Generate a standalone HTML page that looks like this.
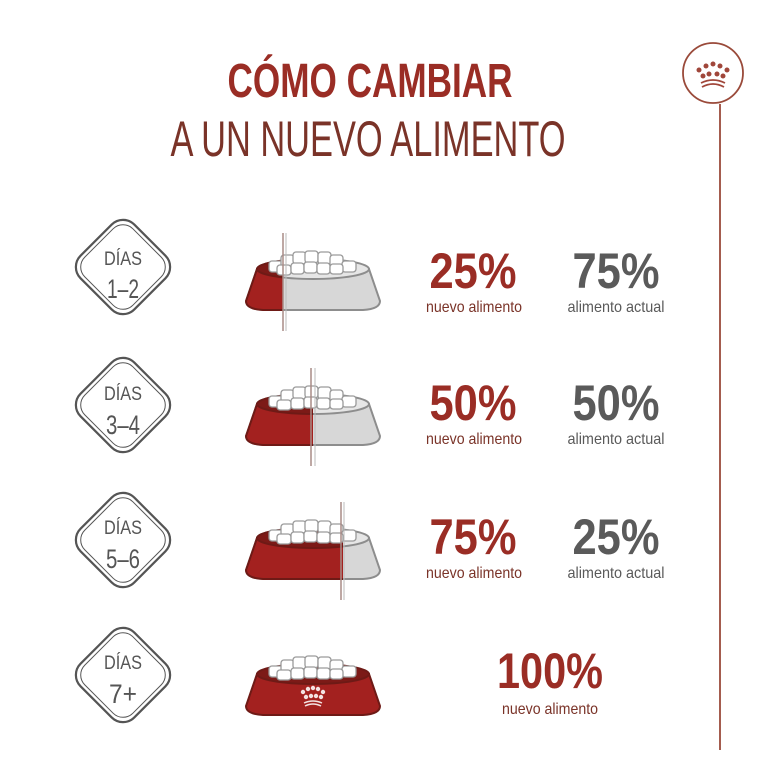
<!DOCTYPE html>
<html><head><meta charset="utf-8"><style>
html,body{margin:0;padding:0;background:#fff;}
svg{display:block;}
</style></head><body>
<svg width="780" height="780" viewBox="0 0 780 780" xmlns="http://www.w3.org/2000/svg" font-family="Liberation Sans, sans-serif">
<defs>
  <g id="food">
    <g fill="#fff" stroke="#9a9a9a" stroke-width="1.3">
      <rect x="-44" y="-22" width="14" height="11" rx="3"/>
      <rect x="-32" y="-28" width="13" height="12" rx="3"/>
      <rect x="-20" y="-31" width="13" height="12" rx="3"/>
      <rect x="-8" y="-32" width="13" height="12" rx="3"/>
      <rect x="5" y="-31" width="13" height="12" rx="3"/>
      <rect x="17" y="-28" width="13" height="12" rx="3"/>
      <rect x="29" y="-22" width="14" height="11" rx="3"/>
      <rect x="-36" y="-18" width="14" height="10" rx="3"/>
      <rect x="-22" y="-20" width="13" height="11" rx="3"/>
      <rect x="-9" y="-21" width="13" height="11" rx="3"/>
      <rect x="4" y="-20" width="13" height="11" rx="3"/>
      <rect x="17" y="-19" width="13" height="10" rx="3"/>
    </g>
  </g>
  <g id="bowlGray">
    <path d="M-56,-14 L-67,18 Q-67,26 -50,27 L50,27 Q67,26 67,18 L56,-14 Z" fill="#d7d7d7" stroke="#8d8d8d" stroke-width="2"/>
    <ellipse cx="0" cy="-14" rx="56" ry="10" fill="#e6e6e6" stroke="#8d8d8d" stroke-width="2"/>
  </g>
  <g id="bowlRed">
    <path d="M-56,-14 L-67,18 Q-67,26 -50,27 L50,27 Q67,26 67,18 L56,-14 Z" fill="#a3211f" stroke="#6e1a16" stroke-width="2"/>
    <ellipse cx="0" cy="-14" rx="56" ry="10" fill="#7c1a17" stroke="#6e1a16" stroke-width="2"/>
  </g>
  <clipPath id="c1"><rect x="-80" y="-60" width="50" height="120"/></clipPath>
  <clipPath id="c2"><rect x="-80" y="-60" width="80" height="120"/></clipPath>
  <clipPath id="c3"><rect x="-80" y="-60" width="110" height="120"/></clipPath>
  <g id="diamond" fill="none" stroke="#555" >
    <rect x="-38" y="-38" width="76" height="76" rx="16" transform="rotate(45)" stroke-width="2.2"/>
    <rect x="-34" y="-34" width="68" height="68" rx="14" transform="rotate(45)" stroke-width="1"/>
  </g>
</defs>

<!-- title -->
<text x="370" y="97" text-anchor="middle" font-size="48" font-weight="bold" fill="#9a2d25" textLength="285" lengthAdjust="spacingAndGlyphs">CÓMO CAMBIAR</text>
<text x="368" y="156" text-anchor="middle" font-size="50" fill="#7a3328" textLength="395" lengthAdjust="spacingAndGlyphs">A UN NUEVO ALIMENTO</text>

<!-- right emblem and line -->
<circle cx="713" cy="73" r="30" fill="none" stroke="#9a4a3a" stroke-width="1.8"/>
<g fill="#a0463a">
  <circle cx="699" cy="70" r="2.5"/><circle cx="706" cy="66" r="2.5"/><circle cx="713" cy="64" r="2.5"/><circle cx="720" cy="66" r="2.5"/><circle cx="727" cy="70" r="2.5"/>
  <circle cx="703" cy="76" r="2.5"/><circle cx="709" cy="74" r="2.5"/><circle cx="717" cy="74" r="2.5"/><circle cx="723" cy="76" r="2.5"/>
</g>
<path d="M701,83 Q713,77 725,83 M702,87 Q713,81 724,87" fill="none" stroke="#a0463a" stroke-width="1.8"/>
<line x1="720" y1="104" x2="720" y2="750" stroke="#9a4a3a" stroke-width="1.8"/>

<!-- row 1 -->
<use href="#diamond" x="123" y="267"/>
<text x="123" y="265" text-anchor="middle" font-size="19" fill="#555" textLength="38" lengthAdjust="spacingAndGlyphs">DÍAS</text>
<text x="123" y="298" text-anchor="middle" font-size="27" fill="#555" textLength="32" lengthAdjust="spacingAndGlyphs">1–2</text>
<g transform="translate(313,283)">
  <use href="#bowlGray"/>
  <g clip-path="url(#c1)"><use href="#bowlRed"/></g>
  <use href="#food"/>
  <line x1="-30" y1="-50" x2="-30" y2="48" stroke="#a98a86" stroke-width="1.5"/>
  <line x1="-27" y1="-50" x2="-27" y2="48" stroke="#bbb" stroke-width="1"/>
</g>
<text x="473" y="288" text-anchor="middle" font-size="50" font-weight="bold" fill="#9a2d25" textLength="87" lengthAdjust="spacingAndGlyphs">25%</text>
<text x="474" y="312" text-anchor="middle" font-size="16" fill="#7a3328" textLength="96" lengthAdjust="spacingAndGlyphs">nuevo alimento</text>
<text x="616" y="288" text-anchor="middle" font-size="50" font-weight="bold" fill="#5a5a5a" textLength="87" lengthAdjust="spacingAndGlyphs">75%</text>
<text x="616" y="312" text-anchor="middle" font-size="16" fill="#5a5a5a" textLength="97" lengthAdjust="spacingAndGlyphs">alimento actual</text>

<!-- row 2 -->
<use href="#diamond" x="123" y="405"/>
<text x="123" y="400" text-anchor="middle" font-size="19" fill="#555" textLength="38" lengthAdjust="spacingAndGlyphs">DÍAS</text>
<text x="123" y="434" text-anchor="middle" font-size="27" fill="#555" textLength="34" lengthAdjust="spacingAndGlyphs">3–4</text>
<g transform="translate(313,418)">
  <use href="#bowlGray"/>
  <g clip-path="url(#c2)"><use href="#bowlRed"/></g>
  <use href="#food"/>
  <line x1="-2" y1="-50" x2="-2" y2="48" stroke="#a98a86" stroke-width="1.5"/>
  <line x1="2" y1="-50" x2="2" y2="48" stroke="#bbb" stroke-width="1"/>
</g>
<text x="473" y="420" text-anchor="middle" font-size="50" font-weight="bold" fill="#9a2d25" textLength="87" lengthAdjust="spacingAndGlyphs">50%</text>
<text x="474" y="444" text-anchor="middle" font-size="16" fill="#7a3328" textLength="96" lengthAdjust="spacingAndGlyphs">nuevo alimento</text>
<text x="616" y="420" text-anchor="middle" font-size="50" font-weight="bold" fill="#5a5a5a" textLength="87" lengthAdjust="spacingAndGlyphs">50%</text>
<text x="616" y="444" text-anchor="middle" font-size="16" fill="#5a5a5a" textLength="97" lengthAdjust="spacingAndGlyphs">alimento actual</text>

<!-- row 3 -->
<use href="#diamond" x="123" y="540"/>
<text x="123" y="534" text-anchor="middle" font-size="19" fill="#555" textLength="38" lengthAdjust="spacingAndGlyphs">DÍAS</text>
<text x="123" y="568" text-anchor="middle" font-size="27" fill="#555" textLength="34" lengthAdjust="spacingAndGlyphs">5–6</text>
<g transform="translate(313,552)">
  <use href="#bowlGray"/>
  <g clip-path="url(#c3)"><use href="#bowlRed"/></g>
  <use href="#food"/>
  <line x1="28" y1="-50" x2="28" y2="48" stroke="#a98a86" stroke-width="1.5"/>
  <line x1="31" y1="-50" x2="31" y2="48" stroke="#bbb" stroke-width="1"/>
</g>
<text x="473" y="554" text-anchor="middle" font-size="50" font-weight="bold" fill="#9a2d25" textLength="87" lengthAdjust="spacingAndGlyphs">75%</text>
<text x="474" y="578" text-anchor="middle" font-size="16" fill="#7a3328" textLength="96" lengthAdjust="spacingAndGlyphs">nuevo alimento</text>
<text x="616" y="554" text-anchor="middle" font-size="50" font-weight="bold" fill="#5a5a5a" textLength="87" lengthAdjust="spacingAndGlyphs">25%</text>
<text x="616" y="578" text-anchor="middle" font-size="16" fill="#5a5a5a" textLength="97" lengthAdjust="spacingAndGlyphs">alimento actual</text>

<!-- row 4 -->
<use href="#diamond" x="123" y="675"/>
<text x="123" y="669" text-anchor="middle" font-size="19" fill="#555" textLength="38" lengthAdjust="spacingAndGlyphs">DÍAS</text>
<text x="123" y="703" text-anchor="middle" font-size="27" fill="#555" textLength="28" lengthAdjust="spacingAndGlyphs">7+</text>
<g transform="translate(313,688)">
  <use href="#bowlRed"/>
  <use href="#food"/>
  <g fill="#f3e3e3">
    <circle cx="-10" cy="4" r="2.2"/><circle cx="-5" cy="1" r="2.2"/><circle cx="0" cy="0" r="2.2"/><circle cx="5" cy="1" r="2.2"/><circle cx="10" cy="4" r="2.2"/>
    <circle cx="-7" cy="9" r="2.2"/><circle cx="-2" cy="8" r="2.2"/><circle cx="3" cy="8" r="2.2"/><circle cx="8" cy="9" r="2.2"/>
  </g>
  <path d="M-9,15 Q0,11 9,15 M-8,18 Q0,14 8,18" fill="none" stroke="#f3e3e3" stroke-width="1.5"/>
</g>
<text x="550" y="688" text-anchor="middle" font-size="50" font-weight="bold" fill="#9a2d25" textLength="106" lengthAdjust="spacingAndGlyphs">100%</text>
<text x="550" y="714" text-anchor="middle" font-size="16" fill="#7a3328" textLength="96" lengthAdjust="spacingAndGlyphs">nuevo alimento</text>
</svg>
</body></html>
